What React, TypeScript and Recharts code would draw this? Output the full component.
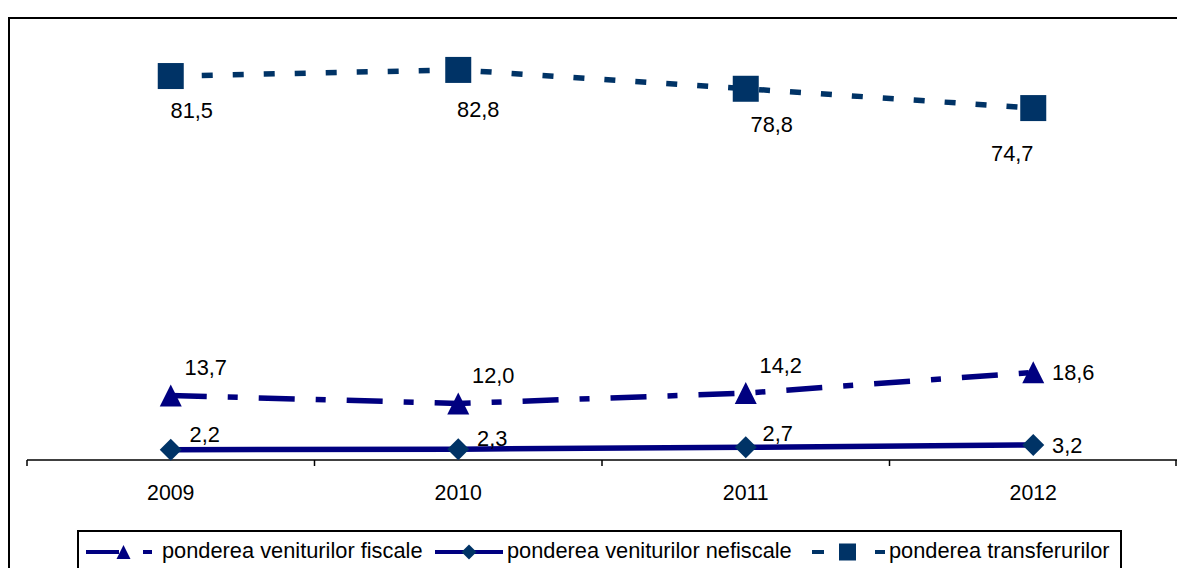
import React from 'react';
import { LineChart, Line, XAxis, YAxis, LabelList, Legend } from 'recharts';

// ---- data ----
const years = ['2009', '2010', '2011', '2012'];
const fiscale = [13.7, 12.0, 14.2, 18.6];
const nefiscale = [2.2, 2.3, 2.7, 3.2];
const transferuri = [81.5, 82.8, 78.8, 74.7];
const seriesNames = [
  'ponderea veniturilor fiscale',
  'ponderea veniturilor nefiscale',
  'ponderea transferurilor',
];

const data = years.map((y, i) => ({
  year: y,
  fiscale: fiscale[i],
  nefiscale: nefiscale[i],
  transferuri: transferuri[i],
}));

// ---- layout / style ----
const W = 1177;
const H = 568;
const M = { top: 36, right: 0, bottom: 78, left: 27 };
const XAXIS_H = 30;
const PLOT_W = W - M.left - M.right;
const BAND = PLOT_W / years.length;

const NAVY = '#000080';
const DARK = '#003366';
const FONT = '"Liberation Sans", Arial, sans-serif';
const LABEL_SIZE = 21.8;

// label centre offsets relative to each point (manual Excel label placement)
const transferOffsets = [[21, 34], [20, 39], [26, 35], [-21, 45]];
const fiscalOffsets = [[35, -28], [35, -28], [35, -28], [40, 0]];
const nefiscalOffsets = [[34, -16], [34, -11], [32, -14], [34, 0]];

const fmt = (v: number) => v.toFixed(1).replace('.', ',');

const makeLabel = (offsets: number[][]) => (props: any) => {
  const { value, index } = props;
  const x = props.x ?? props.viewBox?.x;
  const y = props.y ?? props.viewBox?.y;
  if (x == null || y == null) return null;
  const [dx, dy] = offsets[index] || [0, 0];
  return (
    <text
      key={`lbl-${index}`}
      x={x + dx}
      y={y + dy + 7.9}
      textAnchor="middle"
      fontSize={LABEL_SIZE}
      fontFamily={FONT}
      fill="#000"
    >
      {fmt(Number(value))}
    </text>
  );
};

const SquareDot = (p: any) => {
  const { cx, cy, index } = p;
  if (cx == null || cy == null) return <g key={`sq-${index}`} />;
  return <rect key={`sq-${index}`} x={cx - 13} y={cy - 13} width={26} height={26} fill={DARK} />;
};

const TriangleDot = (p: any) => {
  const { cx, cy, index } = p;
  if (cx == null || cy == null) return <g key={`tr-${index}`} />;
  return (
    <polygon
      key={`tr-${index}`}
      points={`${cx},${cy - 11} ${cx + 11},${cy + 11} ${cx - 11},${cy + 11}`}
      fill={NAVY}
    />
  );
};

const DiamondDot = (p: any) => {
  const { cx, cy, index } = p;
  if (cx == null || cy == null) return <g key={`di-${index}`} />;
  return (
    <polygon
      key={`di-${index}`}
      points={`${cx},${cy - 11} ${cx + 11},${cy} ${cx},${cy + 11} ${cx - 11},${cy}`}
      fill={DARK}
    />
  );
};

const YearTick = (props: any) => {
  const { x, y, payload, index } = props;
  return (
    <g>
      <line x1={x - BAND / 2} x2={x - BAND / 2} y1={y} y2={y + 6} stroke="#000" strokeWidth={1.5} />
      {index === years.length - 1 && (
        <line x1={x + BAND / 2 - 1} x2={x + BAND / 2 - 1} y1={y} y2={y + 6} stroke="#000" strokeWidth={1.5} />
      )}
      <text x={x} y={y + 40} textAnchor="middle" fontSize={21.3} fontFamily={FONT} fill="#000">
        {payload.value}
      </text>
    </g>
  );
};

const LegendContent = () => (
  <div
    style={{
      width: 1041,
      height: 44,
      border: '2px solid #000',
      background: '#fff',
      boxSizing: 'content-box',
    }}
  >
    <svg width={1041} height={44} style={{ display: 'block' }}>
      {/* fiscale */}
      <line x1={7} x2={40} y1={20} y2={20} stroke={NAVY} strokeWidth={4} />
      <polygon points={`44.5,13 51.5,27 37.5,27`} fill={NAVY} />
      <line x1={64} x2={73} y1={20} y2={20} stroke={NAVY} strokeWidth={4} />
      <text x={83} y={26} fontSize={LABEL_SIZE} fontFamily={FONT} fill="#000">
        {seriesNames[0]}
      </text>
      {/* nefiscale */}
      <line x1={356} x2={424} y1={20} y2={20} stroke={NAVY} strokeWidth={4} />
      <polygon points={`390,12.5 397.5,20 390,27.5 382.5,20`} fill={DARK} />
      <text x={428} y={26} fontSize={LABEL_SIZE} fontFamily={FONT} fill="#000">
        {seriesNames[1]}
      </text>
      {/* transferuri */}
      <line x1={733} x2={745} y1={20} y2={20} stroke={DARK} strokeWidth={4} />
      <rect x={760} y={11.5} width={17} height={17} fill={DARK} />
      <line x1={796} x2={806} y1={20} y2={20} stroke={DARK} strokeWidth={4} />
      <text x={810} y={26} fontSize={LABEL_SIZE} fontFamily={FONT} fill="#000">
        {seriesNames[2]}
      </text>
    </svg>
  </div>
);

export default function App() {
  return (
    <div
      style={{
        position: 'absolute',
        left: 0,
        top: 0,
        width: W,
        height: H,
        overflow: 'hidden',
        background: '#fff',
      }}
    >
      <div
        style={{
          position: 'absolute',
          left: 8,
          top: 17,
          width: 1300,
          height: 700,
          border: '2px solid #000',
          boxSizing: 'border-box',
        }}
      />
      <div style={{ position: 'absolute', left: 0, top: 0 }}>
        <LineChart width={W} height={H} data={data} margin={M}>
          <XAxis
            dataKey="year"
            type="category"
            height={XAXIS_H}
            padding={{ left: BAND / 2, right: BAND / 2 }}
            axisLine={{ stroke: '#000', strokeWidth: 1.5 }}
            tickLine={false}
            tickSize={0}
            tickMargin={0}
            interval={0}
            tick={<YearTick />}
          />
          <YAxis hide domain={[0, 90]} type="number" />
          <Legend
            layout="horizontal"
            verticalAlign="middle"
            align="center"
            wrapperStyle={{ left: 77, top: 530, width: 1045, height: 48 }}
            content={() => <LegendContent />}
          />
          <Line
            dataKey="transferuri"
            name={seriesNames[2]}
            stroke={DARK}
            strokeWidth={5.5}
            strokeDasharray="11 20"
            dot={SquareDot}
            activeDot={false}
            isAnimationActive={false}
          >
            <LabelList dataKey="transferuri" content={makeLabel(transferOffsets)} />
          </Line>
          <Line
            dataKey="fiscale"
            name={seriesNames[0]}
            stroke={NAVY}
            strokeWidth={5.5}
            strokeDasharray="36 21 10 21"
            dot={TriangleDot}
            activeDot={false}
            isAnimationActive={false}
          >
            <LabelList dataKey="fiscale" content={makeLabel(fiscalOffsets)} />
          </Line>
          <Line
            dataKey="nefiscale"
            name={seriesNames[1]}
            stroke={NAVY}
            strokeWidth={5.5}
            dot={DiamondDot}
            activeDot={false}
            isAnimationActive={false}
          >
            <LabelList dataKey="nefiscale" content={makeLabel(nefiscalOffsets)} />
          </Line>
        </LineChart>
      </div>
    </div>
  );
}
